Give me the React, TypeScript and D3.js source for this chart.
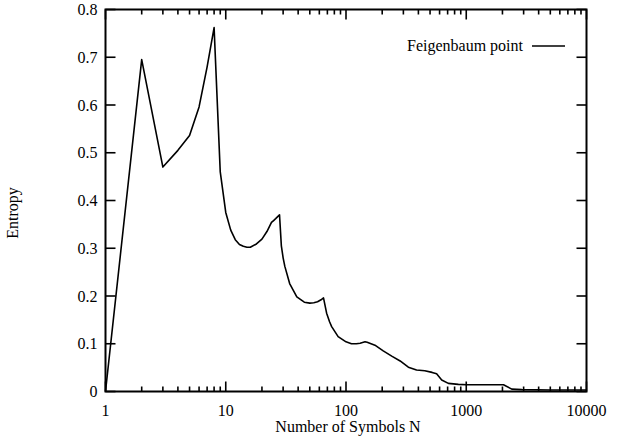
import React from 'react';
import * as d3 from 'd3';

// Entropy vs number of symbols at the Feigenbaum point
const symbolsN = [
  1, 2, 3, 4, 5, 6, 7, 8, 9, 10, 11, 12, 13, 14, 15, 16, 18, 20, 22, 24, 25, 26, 28,
  29, 30, 31, 34, 39, 45, 50, 54, 58, 62, 65, 69, 73, 76, 86, 100, 111, 122, 131,
  144, 150, 174, 204, 240, 282, 330, 386, 452, 520, 567, 625, 710, 860, 1010, 2040,
  2390, 2900, 5000, 10000,
];
const entropy = [
  0, 0.695, 0.47, 0.505, 0.536, 0.596, 0.68, 0.762, 0.46, 0.375, 0.338, 0.318, 0.308,
  0.304, 0.302, 0.302, 0.309, 0.319, 0.335, 0.354, 0.358, 0.362, 0.37,
  0.305, 0.28, 0.262, 0.226, 0.198, 0.187, 0.185, 0.186, 0.188, 0.192, 0.196, 0.164,
  0.146, 0.136, 0.115, 0.104, 0.1, 0.1, 0.101,
  0.104, 0.103, 0.097, 0.085, 0.074, 0.064, 0.051, 0.045, 0.0435, 0.04, 0.037, 0.024,
  0.017, 0.015, 0.014, 0.014,
  0.005, 0.004, 0.003, 0.003,
];
const xTickValues = [1, 10, 100, 1000, 10000];
const yTickValues = [0, 0.1, 0.2, 0.3, 0.4, 0.5, 0.6, 0.7, 0.8];
const legendLabel = 'Feigenbaum point';

const W = 628;
const H = 439;
const left = 105.5, right = 586.5, top = 9.5, bottom = 391.5;
const font = '"Liberation Serif", "Times New Roman", serif';

const App: React.FC = () => {
  const x = d3.scaleLog().domain([1, 10000]).range([left, right]);
  const y = d3.scaleLinear().domain([0, 0.8]).range([bottom, top]);

  const pts = symbolsN.map((n, i) => [n, entropy[i]] as [number, number]);
  const line = d3.line<[number, number]>()
    .x(d => x(d[0]))
    .y(d => y(d[1]));

  // minor ticks 2..9 of each decade
  const minor: number[] = [];
  for (let dec = 1; dec < 10000; dec *= 10) {
    for (let k = 2; k <= 9; k++) minor.push(k * dec);
  }

  return (
    <svg width={W} height={H} style={{ position: 'absolute', left: 0, top: 0 }}
      fontFamily={font} fontSize={16}>
      <rect x={0} y={0} width={W} height={H} fill="white" />

      {/* x ticks, bottom and top */}
      <g stroke="black" strokeWidth={1.6}>
        {xTickValues.map(v => (
          <g key={'xt' + v}>
            <line x1={x(v)} x2={x(v)} y1={bottom} y2={bottom - 10} />
            <line x1={x(v)} x2={x(v)} y1={top} y2={top + 10} />
          </g>
        ))}
        {minor.map(v => (
          <g key={'xm' + v}>
            <line x1={x(v)} x2={x(v)} y1={bottom} y2={bottom - 5} />
            <line x1={x(v)} x2={x(v)} y1={top} y2={top + 5} />
          </g>
        ))}
        {yTickValues.map(v => (
          <g key={'yt' + v}>
            <line x1={left} x2={left + 10} y1={y(v)} y2={y(v)} />
            <line x1={right} x2={right - 10} y1={y(v)} y2={y(v)} />
          </g>
        ))}
      </g>

      {/* frame */}
      <rect x={left} y={top} width={right - left} height={bottom - top}
        fill="none" stroke="black" strokeWidth={2} />

      {/* curve */}
      <path d={line(pts) || ''} fill="none" stroke="black" strokeWidth={1.6}
        strokeLinejoin="round" />

      {/* tick labels */}
      {yTickValues.map(v => (
        <text key={'yl' + v} x={97.5} y={y(v)} dy="0.35em" textAnchor="end">
          {d3.format('')(v)}
        </text>
      ))}
      {xTickValues.map(v => (
        <text key={'xl' + v} x={x(v)} y={415.5} textAnchor="middle">
          {v}
        </text>
      ))}

      {/* axis titles */}
      <text x={348} y={432} textAnchor="middle">Number of Symbols N</text>
      <text transform="translate(18,213) rotate(-90)" textAnchor="middle">Entropy</text>

      {/* legend */}
      <text x={523} y={46} dy="0.33em" textAnchor="end">{legendLabel}</text>
      <line x1={532} x2={565} y1={46} y2={46} stroke="black" strokeWidth={1.6} />
    </svg>
  );
};

export default App;
